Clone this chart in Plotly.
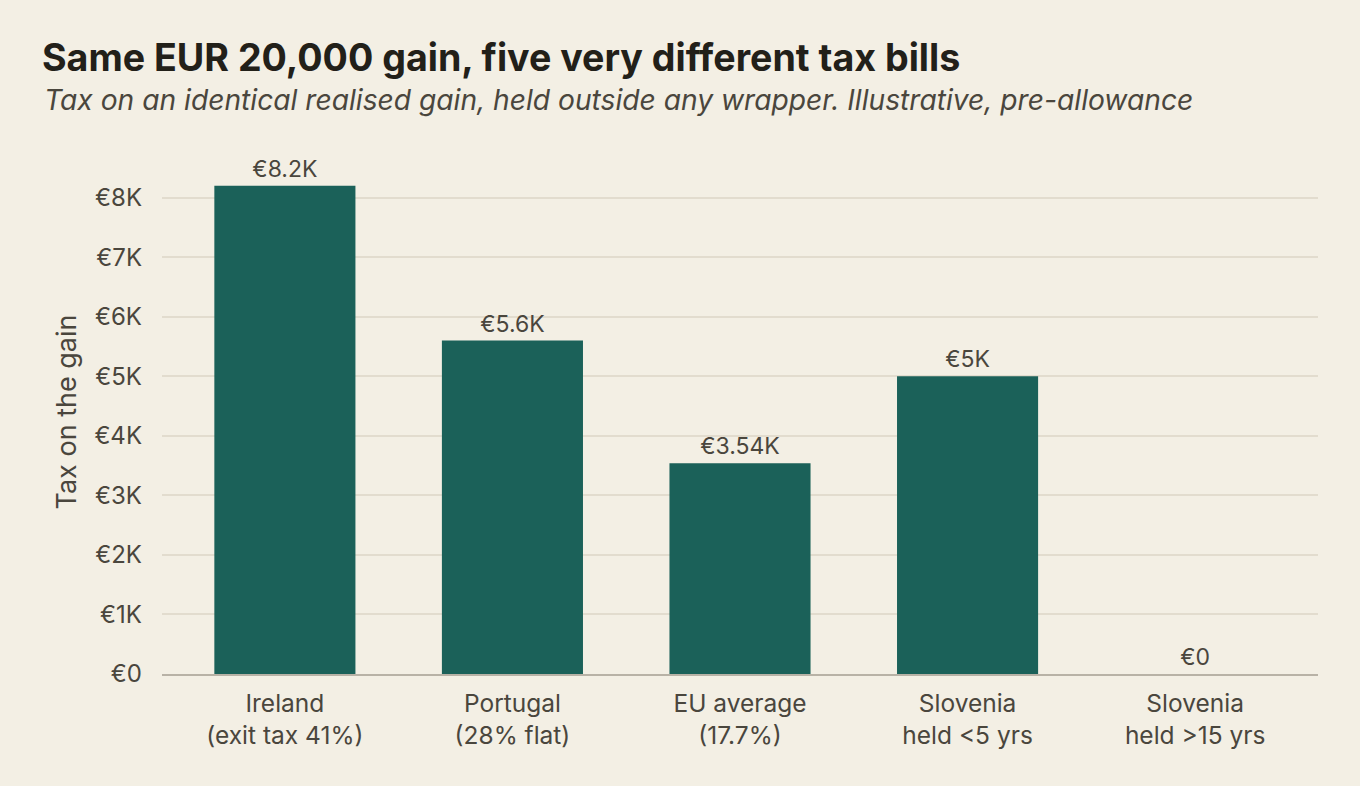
import plotly.graph_objects as go

categories = ["Ireland<br>(exit tax 41%)", "Portugal<br>(28% flat)", "EU average<br>(17.7%)",
              "Slovenia<br>held <5 yrs", "Slovenia<br>held >15 yrs"]
tax_values = [8200, 5600, 3540, 5000, 0]
value_labels = ["€8.2K", "€5.6K", "€3.54K", "€5K", "€0"]
tick_vals = [0, 1000, 2000, 3000, 4000, 5000, 6000, 7000, 8000]
tick_text = ["€0", "€1K", "€2K", "€3K", "€4K", "€5K", "€6K", "€7K", "€8K"]

BG = "#F3EFE4"
BAR = "#1B6159"
TXT = "#4A463D"
FONT = "Inter"

fig = go.Figure()
fig.add_trace(go.Bar(
    x=list(range(len(categories))), y=tax_values,
    marker=dict(color=BAR, line=dict(width=0)),
    width=0.62,
    text=value_labels, textposition="outside",
    textfont=dict(family=FONT, size=23, color=TXT),
    cliponaxis=False,
    hoverinfo="skip",
))

fig.update_layout(
    width=1360, height=786,
    paper_bgcolor=BG, plot_bgcolor=BG,
    margin=dict(l=162, r=42, t=150, b=112),
    font=dict(family=FONT, color=TXT, size=20),
    showlegend=False,
    title=dict(
        text="<b>Same EUR 20,000 gain, five very different tax bills</b>",
        x=42 / 1360, xanchor="left", xref="container",
        y=1 - 58 / 786, yanchor="middle", yref="container",
        font=dict(family=FONT, size=37.6, color="#222019"),
    ),
    annotations=[dict(
        text="<i>Tax on an identical realised gain, held outside any wrapper. Illustrative, pre-allowance</i>",
        xref="paper", yref="paper", x=-120 / 1156, y=1 + 50 / 524,
        xanchor="left", yanchor="middle", showarrow=False,
        font=dict(family=FONT, size=28.2, color=TXT),
    )],
    xaxis=dict(
        range=[-0.54, 4.54],
        tickvals=list(range(len(categories))), ticktext=categories,
        showgrid=False, zeroline=False, showline=True, linecolor="#B8B2A6", linewidth=1.5,
        ticks="", tickfont=dict(family=FONT, size=24.5, color=TXT),
        ticklabelstandoff=7,
    ),
    yaxis=dict(
        range=[0, 8800],
        tickvals=tick_vals, ticktext=tick_text,
        showgrid=True, gridcolor="#E2DCCE", gridwidth=1.5,
        zeroline=False, showline=False, ticks="",
        tickfont=dict(family=FONT, size=24, color=TXT),
        ticklabelstandoff=19,
        title=dict(text="Tax on the gain", font=dict(family=FONT, size=27, color=TXT), standoff=9),
    ),
    bargap=0.38,
)

fig.write_html("out.html")
